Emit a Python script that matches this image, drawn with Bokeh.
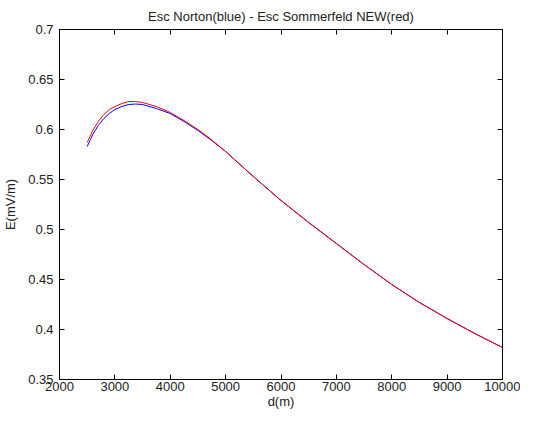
from bokeh.plotting import figure
from bokeh.models import Range1d, LinearAxis, FixedTicker
from bokeh.embed import file_html
from bokeh.resources import INLINE

# distance (m)
d_m = [2500, 2550, 2600, 2700, 2800, 2900, 3000, 3125, 3250, 3375, 3500, 3750,
       4000, 4250, 4500, 4750, 5000, 5500, 6000, 6500, 7000, 7500, 8000, 8500,
       9000, 9500, 10000]
# Esc Norton (blue)
e_norton = [0.583, 0.589, 0.595, 0.604, 0.611, 0.616, 0.620, 0.623, 0.625, 0.6255, 0.625, 0.621,
            0.616, 0.608, 0.599, 0.589, 0.578, 0.553, 0.529, 0.507, 0.486, 0.465, 0.445, 0.427,
            0.411, 0.396, 0.382]
# Esc Sommerfeld NEW (red)
e_sommerfeld = [0.587, 0.593, 0.599, 0.608, 0.615, 0.620, 0.623, 0.626, 0.628, 0.628, 0.627, 0.623,
                0.617, 0.609, 0.600, 0.5895, 0.578, 0.553, 0.529, 0.507, 0.486, 0.465, 0.445, 0.427,
                0.411, 0.396, 0.382]

x_ticks = [2000, 3000, 4000, 5000, 6000, 7000, 8000, 9000, 10000]
x_tick_labels = ["2000", "3000", "4000", "5000", "6000", "7000", "8000", "9000", "10000"]
y_ticks = [0.35, 0.4, 0.45, 0.5, 0.55, 0.6, 0.65, 0.7]
y_tick_labels = ["0.35", "0.4", "0.45", "0.5", "0.55", "0.6", "0.65", "0.7"]

FONT = "Liberation Sans"
TXT = "#222222"
FS = "13px"

p = figure(width=520, height=411, output_backend="svg", toolbar_location=None,
           x_range=Range1d(2000, 10000), y_range=Range1d(0.35, 0.7),
           title="Esc Norton(blue) - Esc Sommerfeld NEW(red)",
           min_border_left=59, min_border_right=18, min_border_top=29, min_border_bottom=30)
p.background_fill_color = "white"
p.border_fill_color = "white"
p.outline_line_color = "black"
p.xgrid.visible = False
p.ygrid.visible = False

p.title.align = "center"
p.title.text_font = FONT
p.title.text_font_size = FS
p.title.text_font_style = "normal"
p.title.text_color = TXT
p.title.standoff = 12
p.title.offset = 0

p.line(d_m, e_norton, line_color="#0000ff", line_width=1)
p.line(d_m, e_sommerfeld, line_color="#ff0000", line_width=1)

def style(ax, ticks, labels):
    ax.ticker = FixedTicker(ticks=ticks)
    ax.major_label_overrides = {t: l for t, l in zip(ticks, labels)}
    ax.major_tick_in = 5
    ax.major_tick_out = 0
    ax.minor_tick_line_color = None
    ax.axis_line_color = "black"
    ax.major_tick_line_color = "black"
    ax.major_label_text_font = FONT
    ax.major_label_text_font_size = FS
    ax.major_label_text_color = TXT
    ax.axis_label_text_font = FONT
    ax.axis_label_text_font_size = FS
    ax.axis_label_text_font_style = "normal"
    ax.axis_label_text_color = TXT

xa = p.xaxis[0]
style(xa, x_ticks, x_tick_labels)
xa.axis_label = "d(m)"
xa.major_label_standoff = 2
xa.axis_label_standoff = 0

ya = p.yaxis[0]
style(ya, y_ticks, y_tick_labels)
ya.axis_label = "E(mV/m)"
ya.major_label_standoff = 6
ya.axis_label_standoff = 7

top = LinearAxis()
style(top, x_ticks, ["" for _ in x_ticks])
top.major_label_text_font_size = "0px"
top.major_label_standoff = 0
p.add_layout(top, "above")

right = LinearAxis()
style(right, y_ticks, ["" for _ in y_ticks])
right.major_label_text_font_size = "0px"
right.major_label_standoff = 0
p.add_layout(right, "right")

open("out.html", "w").write(file_html(p, INLINE))
